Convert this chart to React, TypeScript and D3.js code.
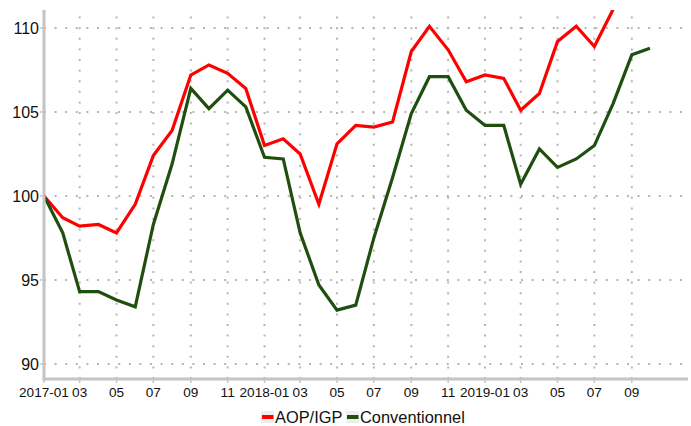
import React from "react";
import * as d3 from "d3";

const months = [
  "2017-01","2017-02","2017-03","2017-04","2017-05","2017-06","2017-07","2017-08","2017-09","2017-10","2017-11","2017-12",
  "2018-01","2018-02","2018-03","2018-04","2018-05","2018-06","2018-07","2018-08","2018-09","2018-10","2018-11","2018-12",
  "2019-01","2019-02","2019-03","2019-04","2019-05","2019-06","2019-07","2019-08","2019-09","2019-10",
];

const aopIgp = [
  100.0, 98.7, 98.2, 98.3, 97.8, 99.5, 102.4, 103.9, 107.2, 107.8, 107.3, 106.4,
  103.0, 103.4, 102.5, 99.5, 103.1, 104.2, 104.1, 104.4, 108.6, 110.1, 108.7, 106.8,
  107.2, 107.0, 105.1, 106.1, 109.2, 110.1, 108.9, 111.1,
];

const conventionnel = [
  100.0, 97.8, 94.3, 94.3, 93.8, 93.4, 98.3, 101.9, 106.4, 105.2, 106.3, 105.3,
  102.3, 102.2, 97.8, 94.7, 93.2, 93.5, 97.5, 101.1, 104.9, 107.1, 107.1, 105.1,
  104.2, 104.2, 100.7, 102.8, 101.7, 102.2, 103.0, 105.5, 108.4, 108.8,
];

const xTickMonths = [
  "2017-01","2017-03","2017-05","2017-07","2017-09","2017-11",
  "2018-01","2018-03","2018-05","2018-07","2018-09","2018-11",
  "2019-01","2019-03","2019-05","2019-07","2019-09",
];
const yTicks = [90, 95, 100, 105, 110];
const seriesNames = ["AOP/IGP", "Conventionnel"];
const seriesColors = ["#ff0000", "#1f4f0f"];

const W = 691, H = 426;
const left = 44, right = 688, top = 10, bottom = 379;

const parse = d3.utcParse("%Y-%m");

export default function App() {
  const x = d3.scaleUtc()
    .domain([parse("2017-01") as Date, new Date(Date.UTC(2019, 11, 3))])
    .range([left, right]);
  const y = d3.scaleLinear().domain([89.1, 111.07]).range([bottom, top]);

  const series = [aopIgp, conventionnel];
  const line = d3.line<[Date, number]>().x(d => x(d[0])).y(d => y(d[1]));

  const fmtTick = (s: string) => {
    const d = parse(s) as Date;
    return d.getUTCMonth() === 0 ? d3.utcFormat("%Y-%m")(d) : d3.utcFormat("%m")(d);
  };

  const gridColor = "#b5b5b5";
  const axisColor = "#c4c4c4";

  const legendY = 417;
  const legendFont = 16.4;
  const legendItems = [
    { x: 262, textX: 275 },
    { x: 347, textX: 360 },
  ];

  return (
    <div style={{ position: "fixed", left: 0, top: 0 }}>
      <svg width={W} height={H} style={{ display: "block", background: "#fff" }} fontFamily="'Liberation Sans', Arial, sans-serif">
        <defs>
          <clipPath id="plotClip">
            <rect x={left} y={top} width={right - left} height={bottom - top} />
          </clipPath>
        </defs>
        {xTickMonths.map(m => {
          const xx = x(parse(m) as Date);
          return (
            <line key={"vg" + m} x1={xx} x2={xx} y1={bottom} y2={top + 3}
              stroke={gridColor} strokeWidth={2} strokeDasharray="2 8.6" />
          );
        })}
        {yTicks.map(t => (
          <line key={"hg" + t} x1={left} x2={right} y1={y(t)} y2={y(t)}
            stroke={gridColor} strokeWidth={2} strokeDasharray="2 8.6" />
        ))}
        <g clipPath="url(#plotClip)">
          {series.map((vals, i) => (
            <path key={seriesNames[i]}
              d={line(vals.map((v, j) => [parse(months[j]) as Date, v])) || ""}
              fill="none" stroke={seriesColors[i]} strokeWidth={3.2}
              strokeLinejoin="miter" strokeLinecap="butt" />
          ))}
        </g>
        <line x1={left} x2={left} y1={top} y2={bottom + 1.5} stroke={axisColor} strokeWidth={3} />
        <line x1={left - 1.5} x2={right} y1={bottom} y2={bottom} stroke={axisColor} strokeWidth={3} />
        {yTicks.map(t => (
          <g key={"yt" + t}>
            <line x1={left - 4} x2={left} y1={y(t)} y2={y(t)} stroke={axisColor} strokeWidth={1.5} />
            <text x={left - 5} y={y(t)} dy="0.36em" textAnchor="end" fontSize={16} fill="#111">{t}</text>
          </g>
        ))}
        {xTickMonths.map(m => {
          const xx = x(parse(m) as Date);
          return (
            <g key={"xt" + m}>
              <line x1={xx} x2={xx} y1={bottom} y2={bottom + 4} stroke={axisColor} strokeWidth={1.5} />
              <text x={xx} y={397} textAnchor="middle" fontSize={13.6} fill="#111">{fmtTick(m)}</text>
            </g>
          );
        })}
        {seriesNames.map((name, i) => (
          <g key={"lg" + name}>
            <rect x={legendItems[i].x - 1} y={legendY - 6} width={13} height={12} fill="#eeeeee" />
            <line x1={legendItems[i].x} x2={legendItems[i].x + 11.5} y1={legendY} y2={legendY}
              stroke={seriesColors[i]} strokeWidth={4} />
            <text x={legendItems[i].textX} y={legendY} dy="0.36em" fontSize={legendFont} fill="#111">{name}</text>
          </g>
        ))}
      </svg>
    </div>
  );
}
